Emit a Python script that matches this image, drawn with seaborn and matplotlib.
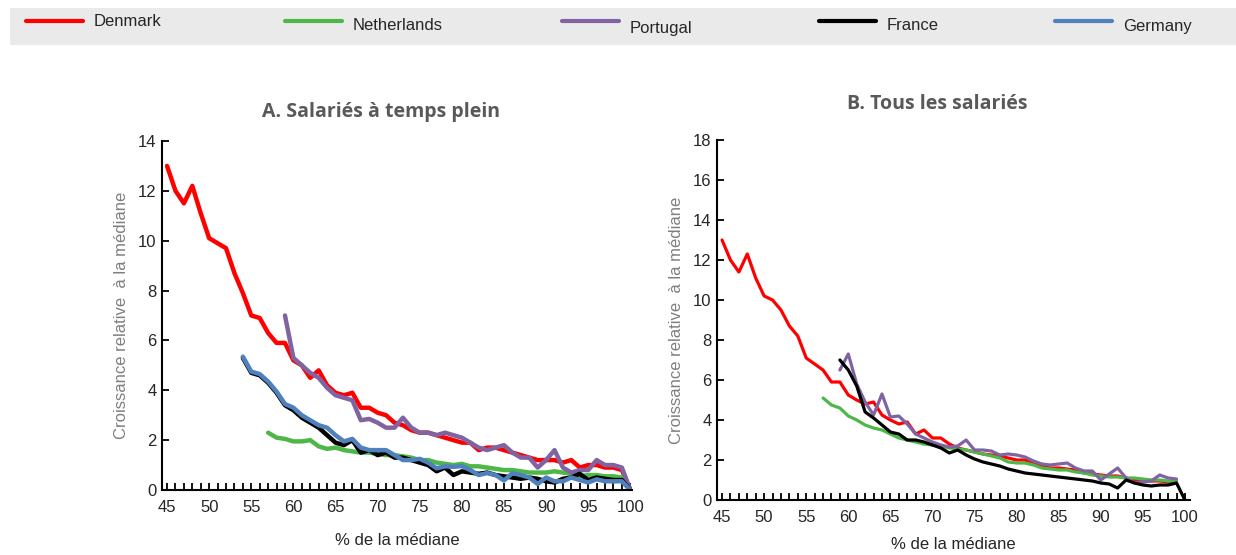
import numpy as np
import pandas as pd
import matplotlib
matplotlib.use('Agg')
import matplotlib.pyplot as plt
from matplotlib.lines import Line2D
from matplotlib.patches import Rectangle
from matplotlib.ticker import MultipleLocator
import seaborn as sns

# Countries and colours (legend order)
countries = ['Denmark', 'Netherlands', 'Portugal', 'France', 'Germany']
colors = {'Denmark': '#FF0000', 'Netherlands': '#4DB848', 'Portugal': '#8064A2',
          'France': '#000000', 'Germany': '#4F81BD'}

# Panel A : full-time employees, first x value of each series + values (step 1)
start_a = {'Denmark': 45, 'Netherlands': 57, 'Portugal': 59, 'France': 54, 'Germany': 54}
denmark_a = [13.0, 12.0, 11.5, 12.2, 11.1, 10.1, 9.9, 9.7, 8.7, 7.9, 7.0, 6.9, 6.3, 5.9, 5.9,
             5.2, 5.0, 4.5, 4.8, 4.2, 3.9, 3.8, 3.9, 3.3, 3.3, 3.1, 3.0, 2.7, 2.6, 2.4,
             2.3, 2.3, 2.2, 2.1, 2.0, 1.9, 1.9, 1.6, 1.7, 1.7, 1.6, 1.5, 1.4, 1.3, 1.2,
             1.2, 1.2, 1.1, 1.2, 0.9, 1.0, 1.0, 0.9, 0.9, 0.8, 0.0]
netherlands_a = [2.3, 2.1, 2.05, 1.95, 1.95, 2.0, 1.75, 1.65, 1.7, 1.6, 1.55, 1.5, 1.5, 1.45,
                 1.4, 1.4, 1.35, 1.3, 1.2, 1.2, 1.1, 1.05, 1.0, 1.05, 0.95, 0.95, 0.9, 0.85,
                 0.8, 0.8, 0.75, 0.7, 0.7, 0.7, 0.75, 0.7, 0.65, 0.55, 0.6, 0.6, 0.55, 0.55,
                 0.5, 0.0]
portugal_a = [7.0, 5.3, 5.0, 4.7, 4.5, 4.1, 3.8, 3.7, 3.6, 2.8, 2.85, 2.7, 2.5, 2.5, 2.9,
              2.5, 2.3, 2.3, 2.2, 2.3, 2.2, 2.1, 1.9, 1.7, 1.6, 1.7, 1.8, 1.5, 1.3, 1.3,
              0.9, 1.2, 1.6, 0.9, 0.7, 0.8, 0.8, 1.2, 1.0, 1.0, 0.9, 0.0]
france_a = [5.3, 4.7, 4.6, 4.3, 3.9, 3.4, 3.2, 2.9, 2.7, 2.5, 2.2, 1.9, 1.8, 2.0, 1.5, 1.6,
            1.4, 1.5, 1.3, 1.3, 1.2, 1.1, 1.0, 0.75, 0.9, 0.6, 0.75, 0.7, 0.65, 0.7, 0.6,
            0.55, 0.5, 0.45, 0.5, 0.45, 0.35, 0.3, 0.45, 0.5, 0.65, 0.4, 0.5, 0.45, 0.4,
            0.4, 0.0]
germany_a = [5.35, 4.75, 4.65, 4.35, 3.95, 3.45, 3.3, 3.0, 2.8, 2.6, 2.5, 2.2, 1.95, 2.05,
             1.7, 1.6, 1.6, 1.6, 1.4, 1.2, 1.2, 1.25, 1.1, 0.87, 0.95, 0.93, 0.96, 0.8,
             0.6, 0.68, 0.6, 0.38, 0.68, 0.6, 0.5, 0.24, 0.5, 0.35, 0.35, 0.5, 0.4, 0.3,
             0.43, 0.35, 0.35, 0.35, 0.0]

# Panel B : all employees (no Germany)
start_b = {'Denmark': 45, 'Netherlands': 57, 'Portugal': 59, 'France': 59}
denmark_b = [13.0, 12.0, 11.4, 12.3, 11.1, 10.2, 10.0, 9.5, 8.7, 8.2, 7.1, 6.8, 6.5, 5.9,
             5.9, 5.25, 5.0, 4.8, 4.9, 4.25, 4.0, 3.8, 3.9, 3.3, 3.5, 3.1, 3.1, 2.8, 2.6,
             2.5, 2.4, 2.3, 2.25, 2.2, 2.1, 2.0, 2.0, 1.8, 1.7, 1.6, 1.6, 1.55, 1.5, 1.35,
             1.3, 1.25, 1.2, 1.2, 1.1, 1.0, 1.0, 0.95, 0.95, 0.9, 0.9]
netherlands_b = [5.1, 4.75, 4.6, 4.2, 4.0, 3.75, 3.6, 3.5, 3.3, 3.1, 3.0, 2.9, 2.8, 2.75,
                 2.7, 2.6, 2.55, 2.5, 2.4, 2.3, 2.2, 2.1, 1.9, 1.85, 1.85, 1.75, 1.6, 1.55,
                 1.5, 1.5, 1.4, 1.35, 1.25, 1.2, 1.15, 1.15, 1.1, 1.1, 1.05, 1.0, 1.0,
                 0.95, 0.95]
portugal_b = [6.5, 7.3, 5.8, 4.9, 4.25, 5.3, 4.15, 4.2, 3.8, 3.3, 3.1, 2.9, 2.75, 2.65, 2.7,
              3.0, 2.5, 2.5, 2.45, 2.25, 2.3, 2.25, 2.15, 1.95, 1.8, 1.75, 1.8, 1.85, 1.6,
              1.45, 1.45, 1.0, 1.3, 1.6, 1.1, 0.85, 0.9, 0.95, 1.25, 1.1, 1.05]
france_b = [7.0, 6.5, 5.7, 4.4, 4.1, 3.75, 3.4, 3.3, 3.0, 3.0, 2.9, 2.75, 2.6, 2.35, 2.5,
            2.25, 2.05, 1.9, 1.8, 1.7, 1.55, 1.45, 1.35, 1.3, 1.25, 1.2, 1.15, 1.1, 1.05,
            1.0, 0.95, 0.85, 0.8, 0.6, 1.0, 0.85, 0.75, 0.7, 0.75, 0.75, 0.85, 0.0]

series_a = {'Denmark': denmark_a, 'Netherlands': netherlands_a, 'Portugal': portugal_a,
            'France': france_a, 'Germany': germany_a}
series_b = {'Denmark': denmark_b, 'Netherlands': netherlands_b, 'Portugal': portugal_b,
            'France': france_b}


def to_long(series, starts):
    frames = []
    for name, vals in series.items():
        x = np.arange(starts[name], starts[name] + len(vals))
        frames.append(pd.DataFrame({'pct': x, 'val': vals, 'pays': name}))
    return pd.concat(frames, ignore_index=True)


df_a = to_long(series_a, start_a)
df_b = to_long(series_b, start_b)

sns.set_style('ticks')
plt.rcParams['font.family'] = ['Liberation Sans', 'DejaVu Sans']

fig = plt.figure(figsize=(12.36, 5.55), dpi=100)

# Legend band at the top
fig.add_artist(Rectangle((10 / 1236, 1 - 45 / 555), 1226 / 1236, 37 / 555,
                         transform=fig.transFigure, facecolor='#EAEAEA', edgecolor='none'))
leg_x = [26, 285, 562, 819, 1055]
leg_ty = [22, 26, 29, 25, 27]
for name, lx, ty in zip(countries, leg_x, leg_ty):
    fig.add_artist(Line2D([lx / 1236, (lx + 57) / 1236], [1 - 21 / 555, 1 - 21 / 555],
                          transform=fig.transFigure, color=colors[name], lw=3))
    fig.text((lx + 68) / 1236, 1 - ty / 555, name, fontsize=12, va='center', ha='left')

ax_a = fig.add_axes([162 / 1236, 65 / 555, 470 / 1236, 349 / 555])
ax_b = fig.add_axes([717 / 1236, 55 / 555, 473 / 1236, 360 / 555])

present_b = [c for c in countries if c in series_b]
sns.lineplot(data=df_a, x='pct', y='val', hue='pays', hue_order=countries, palette=colors,
             linewidth=3.2, legend=False, ax=ax_a, sort=False)
sns.lineplot(data=df_b, x='pct', y='val', hue='pays', hue_order=present_b, palette=colors,
             linewidth=2.3, legend=False, ax=ax_b, sort=False)

for ax, ymax, title, xl_right, tpad, xpad in [
        (ax_a, 14, 'A. Salariés à temps plein', 100.2, 17, 13),
        (ax_b, 18, 'B. Tous les salariés', 100.6, 22, 9)]:
    ax.set_xlim(44.4, xl_right)
    ax.set_ylim(0, ymax)
    ax.xaxis.set_major_locator(MultipleLocator(5))
    ax.xaxis.set_minor_locator(MultipleLocator(1))
    ax.yaxis.set_major_locator(MultipleLocator(2))
    ax.tick_params(axis='both', which='both', direction='in', length=5, width=1.3,
                   color='black', labelsize=12)
    ax.tick_params(axis='x', which='both', pad=7)
    ax.tick_params(axis='y', pad=4)
    for s in ['top', 'right']:
        ax.spines[s].set_visible(False)
    for s in ['left', 'bottom']:
        ax.spines[s].set_linewidth(1.5)
        ax.spines[s].set_color('black')
    ax.set_xlabel('% de la médiane', fontsize=12, labelpad=xpad)
    ax.set_ylabel('Croissance relative  à la médiane', fontsize=12, color='#7F7F7F',
                  labelpad=6)
    t = ax.set_title(title, fontsize=14, fontweight='bold', color='#595959',
                     family=['Open Sans', 'DejaVu Sans'], pad=tpad)
    t.set_x(0.466)

fig.savefig('out.png', dpi=100)
